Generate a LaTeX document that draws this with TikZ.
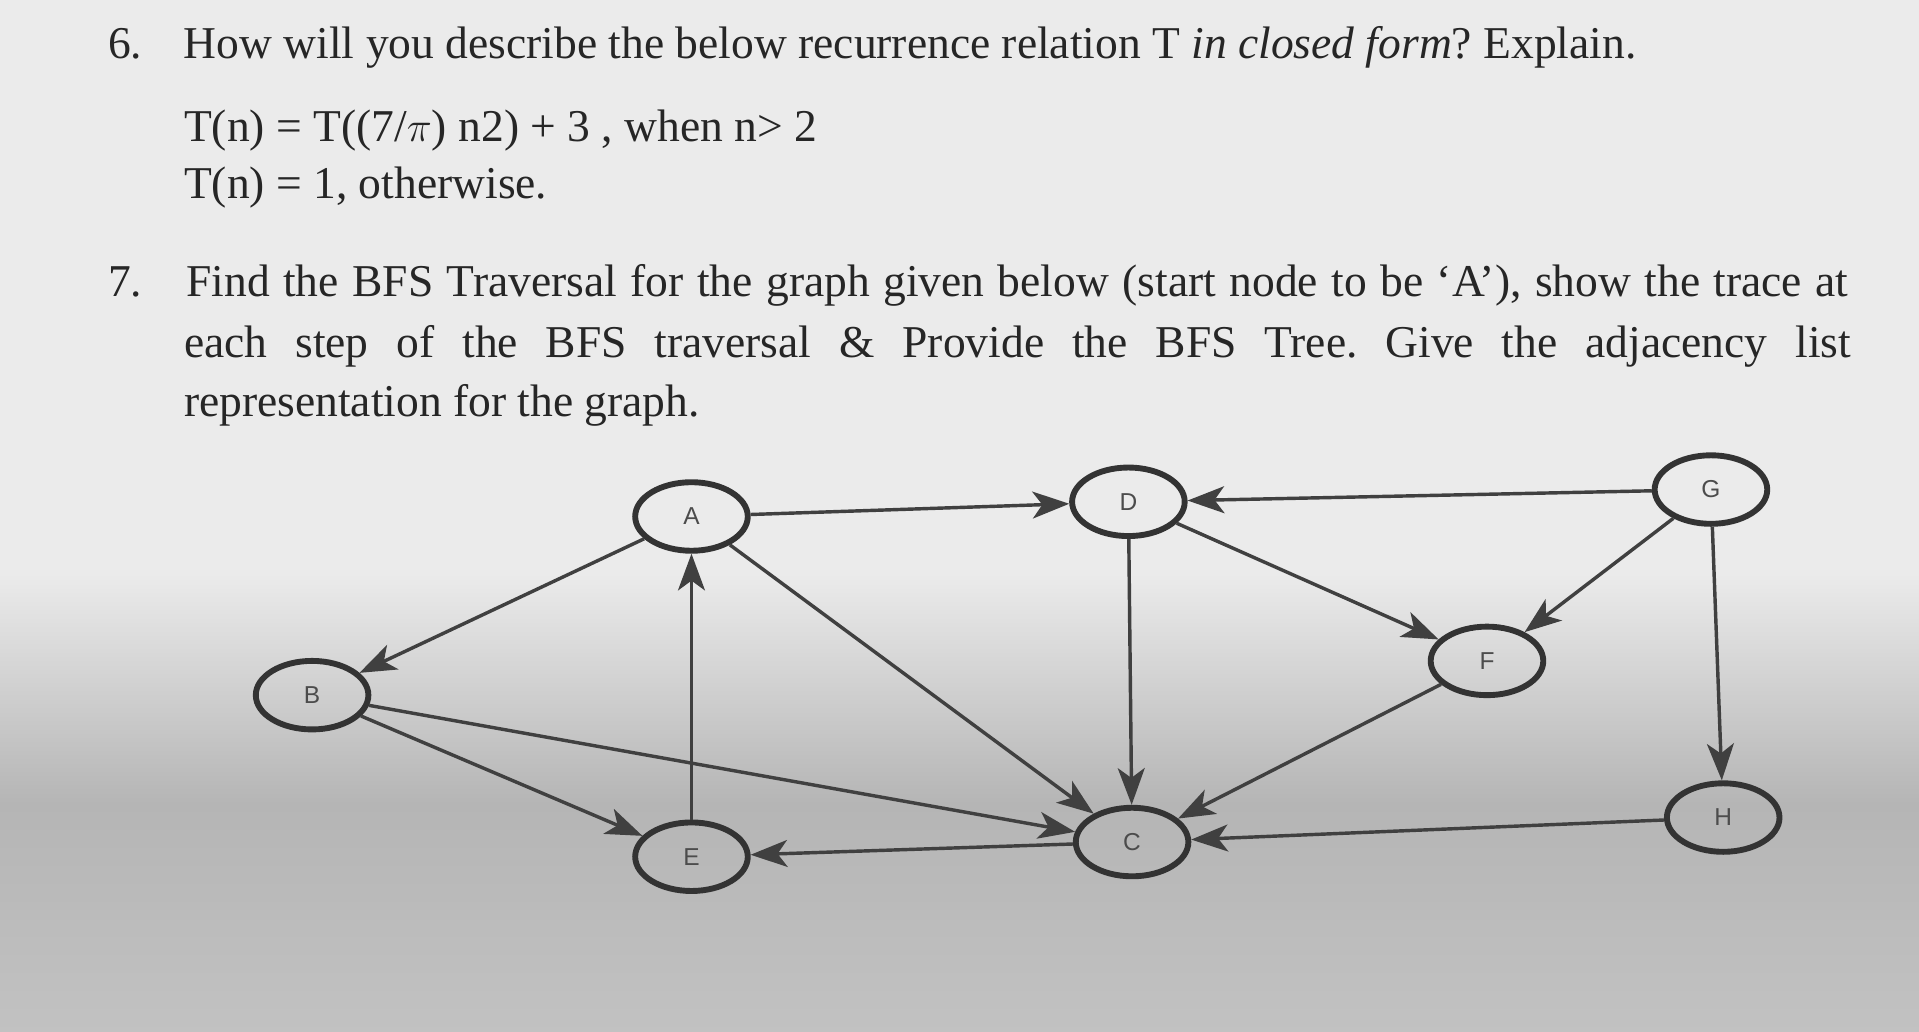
\documentclass[tikz,border=0pt]{standalone}
\usepackage{fontspec}
\setmainfont{Liberation Serif}
\newfontfamily\lab{Liberation Sans}
\usetikzlibrary{shapes.geometric,arrows.meta}
\begin{document}
\frenchspacing
\begin{tikzpicture}[x=0.5pt,y=-0.5pt,
  vtx/.style={ellipse,draw=black!80,line width=2.4pt,minimum width=46pt,minimum height=28pt,inner sep=0pt,font=\lab\fontsize{10}{11}\selectfont,text=black!70},
  edge/.style={line width=1.4pt,draw=black!75,-{Stealth[length=15pt,width=11pt,inset=4pt]}},
  txt/.style={anchor=base west,inner sep=0pt,font=\fontsize{18.6}{22}\selectfont,text=black!85}]
\useasboundingbox (0,0) rectangle (1568,843);
\fill[black!8] (0,0) rectangle (1568,843);
\shade[top color=black!8,bottom color=black!24,middle color=black!29] (0,470) rectangle (1568,843);
\node[txt] (l1) at (88,48) {6.\hspace{17pt}How will you describe the below recurrence relation T \textit{in closed form}? Explain.};
\node[txt] (l2) at (150,116) {T(n) = T((7/$\pi$) n2) + 3 , when n> 2};
\node[txt] (l3) at (150,162) {T(n) = 1, otherwise.};
\node[txt] (l4) at (88,242) {7.\hspace{18pt}\makebox[679pt][s]{Find the BFS Traversal for the graph given below (start node to be `A'), show the trace at}};
\node[txt] (l5) at (150,292) {\makebox[681pt][s]{each step of the BFS traversal \& Provide the BFS Tree. Give the adjacency list}};
\node[txt] (l6) at (150,340) {representation for the graph.};
\node[vtx] (A) at (565,422) {A};
\node[vtx] (D) at (922,410) {D};
\node[vtx] (G) at (1398,400) {G};
\node[vtx] (B) at (255,568) {B};
\node[vtx] (F) at (1215,540) {F};
\node[vtx] (E) at (565,700) {E};
\node[vtx] (C) at (925,688) {C};
\node[vtx] (H) at (1408,668) {H};
\draw[edge] (A) -- (D);
\draw[edge] (G) -- (D);
\draw[edge] (A) -- (B);
\draw[edge] (D) -- (F);
\draw[edge] (G) -- (F);
\draw[edge] (G) -- (H);
\draw[edge] (D) -- (C);
\draw[edge] (A) -- (C);
\draw[edge] (F) -- (C);
\draw[edge] (B) -- (E);
\draw[edge] (B) -- (C);
\draw[edge] (E) -- (A);
\draw[edge] (C) -- (E);
\draw[edge] (H) -- (C);
\end{tikzpicture}
\end{document}
